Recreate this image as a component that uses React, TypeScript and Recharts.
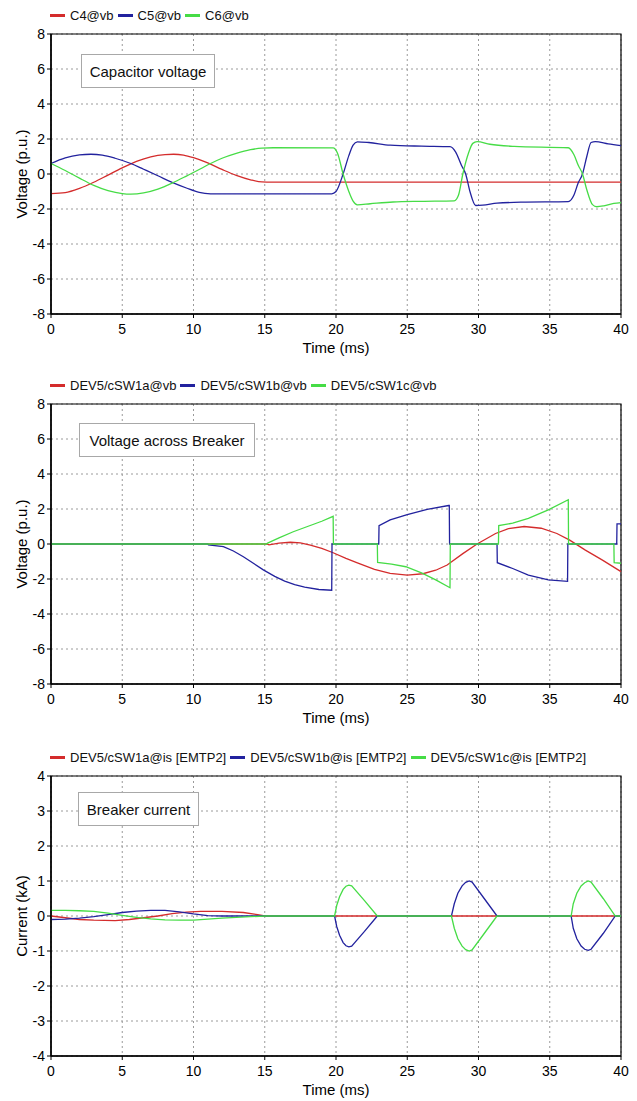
import React from 'react';
import { LineChart, Line, XAxis, YAxis, CartesianGrid, ReferenceArea } from 'recharts';

type Pt = [number, number];

// ---------- axis ticks ----------
const timeTicks = [0, 5, 10, 15, 20, 25, 30, 35, 40];
const voltTicks = [-8, -6, -4, -2, 0, 2, 4, 6, 8];
const currTicks = [-4, -3, -2, -1, 0, 1, 2, 3, 4];

// ---------- chart 1: capacitor voltage (t ms, p.u.) ----------
const c4: Pt[] = [[0,-1.12],[1,-1.06],[2,-0.82],[3,-0.47],[4,-0.06],[5,0.35],[6,0.72],[7,0.98],[8,1.11],[8.6,1.13],[9.3,1.08],[10,0.93],[11,0.63],[12,0.26],[13,-0.08],[14,-0.33],[14.8,-0.45],[15.5,-0.46],[40,-0.46]];
const c5: Pt[] = [[0,0.6],[1,0.92],[2,1.09],[2.8,1.13],[3.6,1.08],[4.5,0.9],[5.6,0.6],[6.5,0.27],[7.5,-0.1],[8.5,-0.48],[9.5,-0.8],[10.4,-1.05],[11.2,-1.13],[12.5,-1.14],[19.7,-1.13],[20.0,-1.0],[20.5,0.0],[20.9,1.05],[21.2,1.65],[21.5,1.84],[22.3,1.8],[23.8,1.65],[26,1.59],[28.0,1.56],[28.4,1.25],[28.8,0.5],[29.1,0.0],[29.4,-1.0],[29.8,-1.8],[30.3,-1.78],[31.3,-1.67],[33,-1.61],[36.3,-1.58],[36.7,-1.2],[37.0,-0.5],[37.3,0.0],[37.6,1.0],[37.9,1.8],[38.2,1.85],[39.1,1.72],[40,1.62]];
const c6: Pt[] = [[0,0.6],[1,0.2],[2,-0.24],[3,-0.65],[4,-0.95],[5,-1.12],[5.6,-1.15],[6.5,-1.08],[7.5,-0.86],[8.5,-0.52],[9.5,-0.12],[10.5,0.3],[11.2,0.6],[12,0.9],[13,1.18],[14,1.39],[14.8,1.48],[15.6,1.5],[19.8,1.49],[20.1,1.2],[20.5,0.0],[20.9,-1.0],[21.2,-1.55],[21.5,-1.76],[22.4,-1.7],[24,-1.6],[26,-1.56],[28.3,-1.53],[28.6,-1.2],[28.9,0.0],[29.3,1.2],[29.6,1.75],[29.9,1.85],[30.8,1.7],[32.5,1.58],[36.3,1.5],[36.7,1.1],[37.0,0.5],[37.3,0.0],[37.6,-0.9],[38.0,-1.75],[38.3,-1.87],[38.8,-1.82],[39.5,-1.68],[40,-1.63]];

// ---------- chart 2: voltage across breaker ----------
const swa: Pt[] = [[0,0],[15.15,0],[15.3,-0.05],[16,0.05],[16.8,0.1],[17.5,0.06],[18.2,-0.06],[19,-0.25],[19.8,-0.5],[20.7,-0.82],[21.5,-1.08],[22.7,-1.45],[23.8,-1.68],[25,-1.78],[26.1,-1.7],[27,-1.5],[27.8,-1.2],[28.9,-0.55],[29.9,0],[31.2,0.6],[32.1,0.88],[33.2,1.0],[34.4,0.9],[35.5,0.6],[36.4,0.22],[37.5,-0.35],[38.7,-0.92],[40,-1.58]];
const swb: Pt[] = [[0,0],[11.0,0],[11.05,-0.05],[12.1,-0.15],[12.8,-0.4],[13.5,-0.73],[14.2,-1.1],[14.9,-1.48],[15.7,-1.85],[16.4,-2.12],[17.1,-2.32],[17.8,-2.47],[18.8,-2.6],[19.7,-2.64],[19.72,0],[23.0,0],[23.02,1.05],[23.8,1.38],[25,1.68],[26.4,1.98],[27.9,2.2],[27.95,2.2],[27.97,0],[31.3,0],[31.32,-1.07],[32.4,-1.4],[33.5,-1.78],[34.9,-2.05],[36.25,-2.13],[36.27,0],[39.7,0],[39.72,1.15],[40,1.15]];
const swc: Pt[] = [[0,0],[15.1,0],[15.2,0.05],[16,0.35],[17,0.7],[18,1.0],[19,1.3],[19.8,1.58],[19.82,0],[22.9,0],[22.92,-1.05],[23.9,-1.15],[24.9,-1.3],[26,-1.65],[27,-2.05],[28,-2.5],[28.02,0],[31.4,0],[31.42,1.05],[32.4,1.19],[33.5,1.47],[34.9,1.95],[36.3,2.53],[36.32,0],[39.5,0],[39.52,-1.07],[40,-1.1]];

// ---------- chart 3: breaker current (kA) ----------
const isa: Pt[] = [[0,0],[1,-0.05],[2,-0.1],[3,-0.12],[4.5,-0.13],[5.5,-0.1],[6.5,-0.05],[7.5,0],[8.5,0.07],[9.5,0.11],[10.5,0.13],[12,0.13],[13.5,0.1],[14.5,0.04],[15,0],[40,0]];
const isb: Pt[] = [[0,-0.1],[1,-0.09],[2,-0.06],[3,-0.02],[4,0.04],[5,0.1],[6,0.14],[7,0.16],[8,0.16],[9,0.12],[10,0.06],[11,0.01],[12,0],[19.9,0],[20.05,-0.3],[20.25,-0.55],[20.5,-0.76],[20.7,-0.85],[20.9,-0.88],[21.1,-0.86],[22.0,-0.44],[22.9,0],[28.1,0],[28.3,0.35],[28.55,0.65],[28.85,0.86],[29.1,0.96],[29.35,1.0],[29.55,0.97],[30.4,0.5],[31.3,0],[36.5,0],[36.65,-0.35],[36.9,-0.65],[37.2,-0.86],[37.45,-0.95],[37.7,-0.98],[37.9,-0.95],[38.75,-0.5],[39.6,0],[40,0]];
const isc: Pt[] = [[0,0.16],[1,0.16],[2,0.15],[3,0.13],[4,0.08],[5,0.02],[6,-0.04],[7,-0.08],[8,-0.11],[9,-0.12],[10,-0.12],[11,-0.09],[12,-0.06],[13,-0.04],[14,-0.02],[15,0],[19.9,0],[20.05,0.3],[20.25,0.55],[20.5,0.76],[20.7,0.85],[20.9,0.88],[21.1,0.86],[22.0,0.44],[22.9,0],[28.1,0],[28.3,-0.35],[28.55,-0.65],[28.85,-0.86],[29.1,-0.96],[29.35,-1.0],[29.55,-0.97],[30.4,-0.5],[31.3,0],[36.5,0],[36.65,0.35],[36.9,0.65],[37.2,0.86],[37.45,0.95],[37.7,1.0],[37.9,0.97],[38.75,0.5],[39.6,0],[40,0]];

// ---------- labels ----------
const names1 = ['C4@vb', 'C5@vb', 'C6@vb'];
const names2 = ['DEV5/cSW1a@vb', 'DEV5/cSW1b@vb', 'DEV5/cSW1c@vb'];
const names3 = ['DEV5/cSW1a@is [EMTP2]', 'DEV5/cSW1b@is [EMTP2]', 'DEV5/cSW1c@is [EMTP2]'];
const colors = ['#d42c2c', '#22229e', '#46dc46'];

const FONT = '"Liberation Sans", Arial, Helvetica, sans-serif';

const toRows = (pts: Pt[]) => pts.map(([t, v]) => ({ t, v }));

interface PanelProps {
  top: number;
  names: string[];
  series: Pt[][];
  ticks: number[];
  yLabel: string;
  note: string;
  noteBox: { left: number; top: number; width: number };
  curve: 'linear' | 'monotone';
}

const Panel = ({ top, names, series, ticks, yLabel, note, noteBox, curve }: PanelProps) => {
  const yMin = ticks[0];
  const yMax = ticks[ticks.length - 1];
  const yLab = (props: any) => {
    const vb = props.viewBox || { x: 0, y: 26, width: 51, height: 280 };
    const cx = 21;
    const cy = vb.y + vb.height / 2;
    return (
      <text x={cx} y={cy} transform={`rotate(-90 ${cx} ${cy})`} textAnchor="middle" dominantBaseline="central" fontSize={15} fill="#000" fontFamily={FONT}>
        {yLabel}
      </text>
    );
  };
  const xLab = (props: any) => {
    const vb = props.viewBox || { x: 51, y: 306, width: 570, height: 45 };
    return (
      <text x={vb.x + vb.width / 2} y={vb.y + 33} textAnchor="middle" dominantBaseline="central" fontSize={15} fill="#000" fontFamily={FONT}>
        Time (ms)
      </text>
    );
  };
  return (
    <div style={{ position: 'absolute', left: 0, top, width: 637, height: 351 }}>
      <LineChart width={637} height={351} margin={{ top: 26, right: 16, bottom: 0, left: 0 }} style={{ fontFamily: FONT }}>
        <CartesianGrid stroke="#9a9a9a" strokeDasharray="2 3" />
        <XAxis
          type="number"
          dataKey="t"
          domain={[0, 40]}
          ticks={timeTicks}
          interval={0}
          height={45}
          tickSize={4}
          tickMargin={6}
          tick={{ fill: '#000', fontSize: 14 }}
          tickLine={{ stroke: '#000' }}
          axisLine={{ stroke: '#000', strokeWidth: 1.5 }}
          label={xLab}
        />
        <YAxis
          type="number"
          domain={[yMin, yMax]}
          ticks={ticks}
          interval={0}
          width={51}
          tickSize={4}
          tickMargin={2}
          tick={{ fill: '#000', fontSize: 14 }}
          tickLine={{ stroke: '#000' }}
          axisLine={{ stroke: '#000', strokeWidth: 1.5 }}
          label={yLab}
        />
        <ReferenceArea x1={0} x2={40} y1={yMin} y2={yMax} fill="none" fillOpacity={0} stroke="#000" strokeWidth={1.2} />
        {series.map((s, i) => (
          <Line
            key={names[i]}
            data={toRows(s)}
            dataKey="v"
            name={names[i]}
            type={curve}
            stroke={colors[i]}
            strokeWidth={1.3}
            dot={false}
            activeDot={false}
            isAnimationActive={false}
          />
        ))}
      </LineChart>
      <div style={{ position: 'absolute', left: 50, top: 0, height: 15, display: 'flex', alignItems: 'center', fontFamily: FONT, fontSize: 13, color: '#111', whiteSpace: 'nowrap' }}>
        {names.map((n, i) => (
          <span key={n} style={{ display: 'flex', alignItems: 'center', marginRight: 4 }}>
            <span style={{ display: 'inline-block', width: 15, height: 3, background: colors[i], marginRight: 5 }} />
            <span>{n}</span>
          </span>
        ))}
      </div>
      <div
        style={{
          position: 'absolute',
          left: noteBox.left,
          top: noteBox.top,
          width: noteBox.width,
          height: 34,
          boxSizing: 'border-box',
          border: '1px solid #a8a8a8',
          background: '#fff',
          display: 'flex',
          alignItems: 'center',
          justifyContent: 'center',
          fontFamily: FONT,
          fontSize: 15,
          color: '#111',
          whiteSpace: 'nowrap',
        }}
      >
        {note}
      </div>
    </div>
  );
};

export default function App() {
  return (
    <div style={{ position: 'relative', width: 637, height: 1101, overflow: 'hidden', background: '#fff' }}>
      <style>{'body{margin:0;}'}</style>
      <Panel top={8} names={names1} series={[c4, c5, c6]} ticks={voltTicks} yLabel="Voltage (p.u.)" note="Capacitor voltage" noteBox={{ left: 81, top: 46, width: 134 }} curve="monotone" />
      <Panel top={378} names={names2} series={[swa, swb, swc]} ticks={voltTicks} yLabel="Voltage (p.u.)" note="Voltage across Breaker" noteBox={{ left: 79, top: 45, width: 176 }} curve="linear" />
      <Panel top={750} names={names3} series={[isa, isb, isc]} ticks={currTicks} yLabel="Current (kA)" note="Breaker current" noteBox={{ left: 78, top: 42, width: 121 }} curve="linear" />
    </div>
  );
}
